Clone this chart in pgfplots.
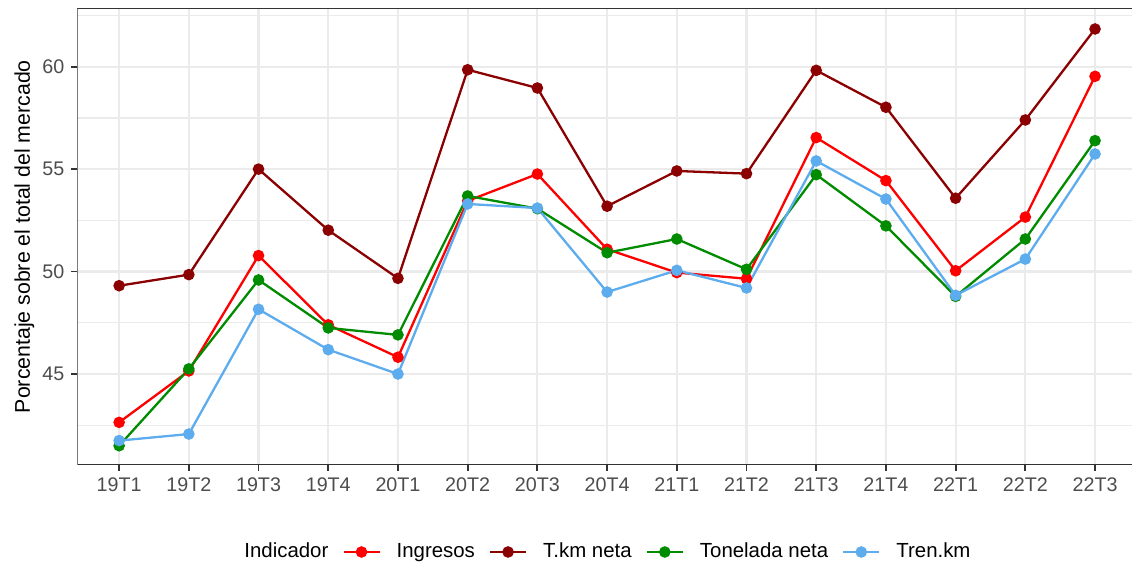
\documentclass[border=0pt]{standalone}
\usepackage{pgfplots}
\pgfplotsset{compat=1.18}
\usepackage{fontspec}
\setmainfont{Liberation Sans}
\definecolor{cIng}{HTML}{FF0000}
\definecolor{cTkm}{HTML}{8B0000}
\definecolor{cTon}{HTML}{008B00}
\definecolor{cTren}{HTML}{5CACEE}
\definecolor{gridc}{HTML}{EBEBEB}
\definecolor{axc}{HTML}{333333}
\definecolor{tickc}{HTML}{4D4D4D}
\begin{document}
\begin{tikzpicture}
\begin{axis}[
  at={(0,0)}, anchor=south west,
  scale only axis, width=527.35pt, height=228.35pt,
  xmin=-0.6, xmax=14.53, ymin=40.56, ymax=62.85,
  xtick={0,...,14},
  xticklabels={19T1,19T2,19T3,19T4,20T1,20T2,20T3,20T4,21T1,21T2,21T3,21T4,22T1,22T2,22T3},
  ytick={45,50,55,60},
  minor ytick={42.5,47.5,52.5,57.5,62.5},
  xmajorgrids, ymajorgrids, yminorgrids,
  major grid style={draw=gridc, line width=1.1pt},
  minor grid style={draw=gridc, line width=0.7pt},
  axis line style={draw=none},
  tick align=outside, major tick length=3pt, minor tick length=0pt,
  xtick pos=left, ytick pos=left,
  major tick style={draw=axc, line width=0.9pt},
  /pgf/number format/assume math mode=true,
  ticklabel style={font=\fontsize{9.85}{11}\selectfont, text=tickc},
  ylabel={Porcentaje sobre el total del mercado},
  every axis y label/.style={at={(axis description cs:-0.05025,0.5)}, anchor=center, rotate=90, font=\fontsize{10.65}{12}\selectfont},
  legend style={at={(0.4951,-0.1905)}, anchor=center, draw=none, fill=none, legend columns=-1,
    font=\fontsize{10.2}{12}\selectfont, nodes={inner sep=0pt},
    /tikz/every even column/.append style={column sep=7pt},
    /tikz/every odd column/.append style={column sep=8pt}},
  legend cell align=left,
  legend image code/.code={\draw[mark repeat=2, mark phase=2] plot coordinates {(0pt,0pt) (9pt,0pt) (18pt,0pt)};},
  every axis plot/.append style={line width=1.15pt, mark=*, mark size=2.3pt},
]
\addlegendimage{empty legend}
\addlegendentry{Indicador}
\addplot[color=cIng, mark options={fill=cIng, draw=cIng}] coordinates {
(0,42.64) (1,45.15) (2,50.78) (3,47.40) (4,45.82) (5,53.45) (6,54.76) (7,51.09)
(8,49.95) (9,49.65) (10,56.54) (11,54.44) (12,50.04) (13,52.66) (14,59.53)};
\addlegendentry{Ingresos}
\addplot[color=cTkm, mark options={fill=cTkm, draw=cTkm}] coordinates {
(0,49.31) (1,49.85) (2,55.00) (3,52.02) (4,49.67) (5,59.85) (6,58.96) (7,53.19)
(8,54.91) (9,54.78) (10,59.82) (11,58.02) (12,53.58) (13,57.40) (14,61.84)};
\addlegendentry{T.km neta}
\addplot[color=cTon, mark options={fill=cTon, draw=cTon}] coordinates {
(0,41.50) (1,45.25) (2,49.59) (3,47.25) (4,46.91) (5,53.69) (6,53.07) (7,50.92)
(8,51.59) (9,50.11) (10,54.73) (11,52.23) (12,48.79) (13,51.59) (14,56.39)};
\addlegendentry{Tonelada neta}
\addplot[color=cTren, mark options={fill=cTren, draw=cTren}] coordinates {
(0,41.75) (1,42.07) (2,48.16) (3,46.19) (4,45.00) (5,53.30) (6,53.10) (7,49.00)
(8,50.06) (9,49.20) (10,55.40) (11,53.54) (12,48.84) (13,50.61) (14,55.74)};
\addlegendentry{Tren.km}
\draw[axc, line width=0.9pt] (rel axis cs:0,1) -- (rel axis cs:0,0) -- (rel axis cs:1,0);
\draw[axc, line width=0.9pt] (rel axis cs:0,1) -- (rel axis cs:1,1);
\end{axis}
\pgfresetboundingbox
\useasboundingbox (-38.65pt,-50pt) rectangle (527.35pt,232.5pt);
\end{tikzpicture}
\end{document}
